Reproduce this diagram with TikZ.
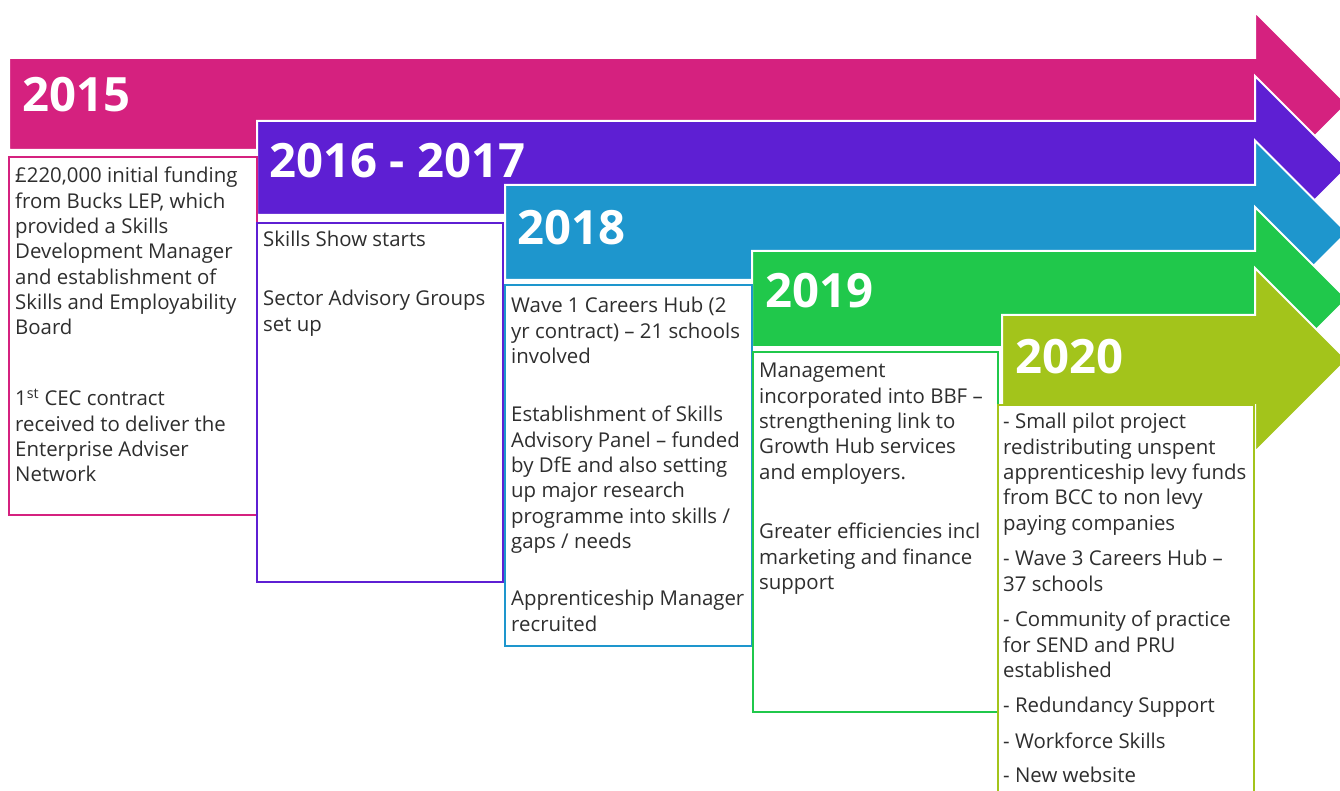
\documentclass[tikz,border=0pt]{standalone}
\usepackage{fontspec}
\setmainfont{Open Sans}
\definecolor{cpink}{HTML}{D5217F}
\definecolor{cpurple}{HTML}{5E1FD3}
\definecolor{cblue}{HTML}{1E96CD}
\definecolor{cgreen}{HTML}{20C84B}
\definecolor{clime}{HTML}{A3C41B}
\definecolor{ctext}{HTML}{2E2E2E}
\newcommand\tlArrow[4]{%
  \fill[#1, draw=white, line width=2pt, line join=miter]
    (#2,#3) -- (1255,#3) -- (1255,{(#3+#4)/2-92}) -- ({1255+92},{(#3+#4)/2})
    -- (1255,{(#3+#4)/2+92}) -- (1255,#4) -- (#2,#4) -- cycle;}
\begin{document}
\begin{tikzpicture}[x=1pt,y=-1pt,
  boxstyle/.style={draw=#1, fill=white, line width=1.3pt, anchor=north west, inner sep=0pt, outer sep=0pt},
  txt/.style={font=\fontsize{20.4}{25.3}\selectfont, text=ctext, align=left, anchor=north west, inner sep=0pt},
  yearlbl/.style={font=\fontsize{47.3}{50}\selectfont\bfseries, text=white, anchor=base west, inner sep=0pt}]
\useasboundingbox (0,0) rectangle (1340,791);
\clip (0,0) rectangle (1340,791);
\fill[white] (0,0) rectangle (1340,791);
% arrows
\tlArrow{cpink}{9}{58}{150}
\tlArrow{cpurple}{257}{121}{215}
\tlArrow{cblue}{505}{185}{280}
\tlArrow{cgreen}{752}{251}{347}
\tlArrow{clime}{1002}{315}{405}
% year labels
\node[yearlbl] (y15) at (22,112) {2015};
\node[yearlbl] (y16) at (269,178) {2016 - 2017};
\node[yearlbl] (y18) at (517,245) {2018};
\node[yearlbl] (y19) at (765,308) {2019};
\node[yearlbl] (y20) at (1015,373) {2020};
% boxes
\node[boxstyle=cpink, minimum width=248pt, minimum height=358pt] (b15) at (9,157) {};
\node[boxstyle=cpurple, minimum width=246pt, minimum height=359pt] (b16) at (257,223) {};
\node[boxstyle=cblue, minimum width=247pt, minimum height=361pt] (b18) at (505,285) {};
\node[boxstyle=cgreen, minimum width=245pt, minimum height=360pt] (b19) at (753,352) {};
\node[boxstyle=clime, minimum width=256pt, minimum height=400pt] (b20) at (998,405) {};
% texts 2015
\node[txt] (t15a) at (15,165) {\strut£220,000 initial funding\\from Bucks LEP, which\\provided a Skills\\Development Manager\\and establishment of\\Skills and Employability\\Board};
\node[txt] (t15b) at (15,388) {\strut1\textsuperscript{st} CEC contract\\received to deliver the\\Enterprise Adviser\\Network};
% 2016-2017
\node[txt] (t16a) at (263,229) {\strut Skills Show starts};
\node[txt] (t16b) at (263,288) {\strut Sector Advisory Groups\\set up};
% 2018
\node[txt] (t18a) at (511,295) {\strut Wave 1 Careers Hub (2\\yr contract) – 21 schools\\involved};
\node[txt] (t18b) at (511,404) {\strut Establishment of Skills\\Advisory Panel – funded\\by DfE and also setting\\up major research\\programme into skills /\\gaps / needs};
\node[txt] (t18c) at (511,588) {\strut Apprenticeship Manager\\recruited};
% 2019
\node[txt] (t19a) at (759,360) {\strut Management\\incorporated into BBF –\\strengthening link to\\Growth Hub services\\and employers.};
\node[txt] (t19b) at (759,521) {\strut Greater efficiencies incl\\marketing and finance\\support};
% 2020
\node[txt] (t20a) at (1003,411) {\strut - Small pilot project\\redistributing unspent\\apprenticeship levy funds\\from BCC to non levy\\paying companies};
\node[txt] (t20b) at (1003,548) {\strut - Wave 3 Careers Hub –\\37 schools};
\node[txt] (t20c) at (1003,609) {\strut - Community of practice\\for SEND and PRU\\established};
\node[txt] (t20d) at (1003,695) {\strut - Redundancy Support};
\node[txt] (t20e) at (1003,731) {\strut - Workforce Skills};
\node[txt] (t20f) at (1003,765) {\strut - New website};
\end{tikzpicture}
\end{document}
